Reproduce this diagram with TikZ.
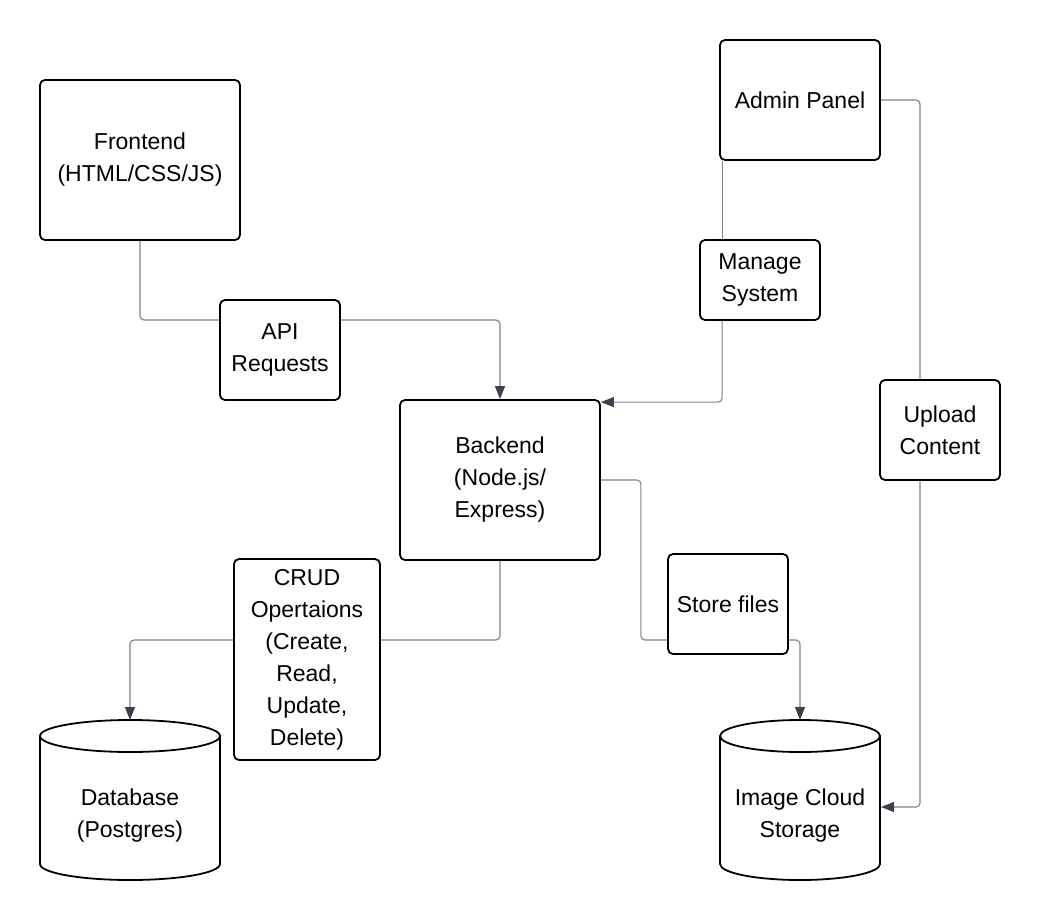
\documentclass[tikz,border=0pt]{standalone}
\usepackage{fontspec}
\setmainfont{Liberation Sans}
\usetikzlibrary{arrows.meta}
\definecolor{linegray}{HTML}{7E838B}
\definecolor{arrowgray}{HTML}{3B424D}
\begin{document}
\begin{tikzpicture}[x=1pt,y=-1pt,
  box/.style={draw=black, line width=1.8pt, rounded corners=5pt, align=center,
    font=\fontsize{23}{32}\selectfont, inner sep=0pt},
  txt/.style={align=center, font=\fontsize{23}{32}\selectfont, inner sep=0pt},
  cyl/.style={draw=black, line width=1.8pt, fill=white},
  conn/.style={draw=linegray, line width=1.1pt, rounded corners=4pt},
  arr/.style={conn, -{Triangle[length=13pt,width=10pt,color=arrowgray]}}
]
\fill[white] (0,0) rectangle (1040,920);
\useasboundingbox (0,0) rectangle (1040,920);

% boxes
\node[box, minimum width=200pt, minimum height=160pt] (fe) at (140,160) {Frontend\\(HTML/CSS/JS)};
\node[box, minimum width=160pt, minimum height=120pt] (ad) at (800,100) {Admin Panel};
\node[box, minimum width=120pt, minimum height=80pt] (mg) at (760,280) {Manage\\System};
\node[box, minimum width=120pt, minimum height=100pt] (up) at (940,430) {Upload\\Content};
\node[box, minimum width=200pt, minimum height=160pt] (be) at (500,480) {Backend\\(Node.js/\\Express)};
\node[box, minimum width=120pt, minimum height=100pt] (api) at (280,350) {API\\Requests};
\node[box, minimum width=146pt, minimum height=201pt] (crud) at (307,659.5) {CRUD\\Opertaions\\(Create,\\Read,\\Update,\\Delete)};
\node[box, minimum width=120pt, minimum height=100pt] (st) at (728,604) {Store files};

% cylinders
\draw[cyl] (40,736) -- (40,864) arc[start angle=180,end angle=360,x radius=90pt,y radius=16pt] -- (220,736);
\draw[cyl] (130,736) ellipse[x radius=90pt,y radius=16pt];
\node[txt] (db) at (130,816) {Database\\(Postgres)};
\coordinate (dbtop) at (130,720);

\draw[cyl] (720,736) -- (720,864) arc[start angle=180,end angle=360,x radius=80pt,y radius=16pt] -- (880,736);
\draw[cyl] (800,736) ellipse[x radius=80pt,y radius=16pt];
\node[txt] (ic) at (800,816) {Image Cloud\\Storage};
\coordinate (ictop) at (800,720);
\coordinate (icright) at (881,807);

% connectors
\draw[conn] (fe.south) |- ([yshift=30pt]api.west);
\draw[arr] ([yshift=30pt]api.east) -| (be.north);

\draw[conn] ([xshift=3pt]ad.south west) -- ([xshift=3pt]ad.south west |- mg.north);
\draw[arr] ([xshift=3pt]ad.south west |- mg.south) |- ([yshift=-3pt]be.north east);

\draw[conn] (ad.east) -| ([xshift=-20pt]up.north);
\draw[arr] ([xshift=-20pt]up.south) |- (icright);

\draw[conn] (be.east) -- ++(40,0) |- ([yshift=-36pt]st.west);
\draw[arr] ([yshift=-36pt]st.east) -| (ictop);

\draw[conn] (be.south) |- ([yshift=19.5pt]crud.east);
\draw[arr] ([yshift=19.5pt]crud.west) -| (dbtop);
\end{tikzpicture}
\end{document}
